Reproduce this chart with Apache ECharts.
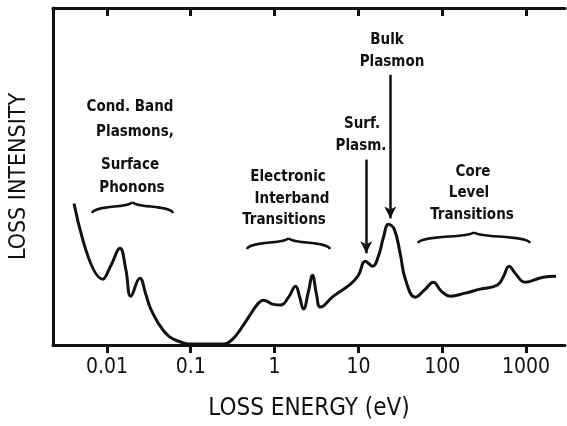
<!DOCTYPE html>
<html>
<head>
<meta charset="utf-8">
<script src="https://cdn.jsdelivr.net/npm/echarts@6/dist/echarts.min.js"></script>
<style>
  html, body { margin: 0; padding: 0; background: #fff; }
  #chart { width: 567px; height: 426px; }
</style>
</head>
<body>
<div id="chart"></div>
<script>
// loss energy (eV) and loss intensity (arbitrary units)
var energies = [0.00405, 0.00896, 0.0112, 0.0143, 0.0168, 0.0193, 0.0247, 0.0291, 0.0334,
    0.0477, 0.070, 0.115, 0.247, 0.316, 0.394, 0.518, 0.628, 0.740, 0.946,
    1.18, 1.47, 1.78, 1.98, 2.21, 2.54, 2.83, 3.16, 3.53, 5.04,
    8.04, 10.0, 12.1, 14.7, 17.3, 19.9, 22.8, 26.8, 31.6, 36.3,
    47.7, 62.8, 78.2, 97.3, 124, 188, 283, 452, 532, 628,
    740, 973, 1592, 2275];
var intensity = [142, 66, 80, 97, 76, 49, 67, 51, 36,
    14, 4, 1, 1, 6, 16, 31, 41, 45, 41,
    40, 48, 59, 49, 36, 54, 70, 51, 38, 49,
    61, 70, 84, 79, 89, 108, 121, 116, 91, 66,
    48, 56, 63, 54, 49, 52, 56, 60, 68, 79,
    72, 63, 68, 69];
var tickEnergies = [0.01, 0.1, 1, 10, 100, 1000];
var tickLabels = ['0.01', '0.1', '1', '10', '100', '1000'];

var ink = '#111';
var font = '"Liberation Sans Narrow", "DejaVu Sans Condensed", sans-serif';
var tickPos = tickEnergies.map(function (e) { return Math.log10(e); });
var seriesData = energies.map(function (e, i) { return [Math.log10(e), intensity[i]]; });

const chart = echarts.init(document.getElementById('chart'));

var option = {
    animation: false,
    grid: { left: 52, right: 2, top: 8, bottom: 80 },
    xAxis: [
        {
            type: 'value',
            min: -2.643,
            max: 3.464,
            position: 'bottom',
            name: 'LOSS ENERGY (eV)',
            nameLocation: 'middle',
            nameGap: 52,
            nameTextStyle: { color: ink, fontFamily: font, fontSize: 24 },
            axisLine: { onZero: false, lineStyle: { color: ink, width: 3 } },
            axisTick: { customValues: tickPos, length: 8, lineStyle: { color: ink, width: 3 } },
            axisLabel: {
                customValues: tickPos,
                margin: 12,
                color: ink, fontFamily: font, fontSize: 21,
                formatter: function (v) {
                    var i = tickPos.findIndex(function (p) { return Math.abs(p - v) < 1e-6; });
                    return i >= 0 ? tickLabels[i] : '';
                }
            },
            splitLine: { show: false }
        },
        {
            type: 'value',
            min: -2.643,
            max: 3.464,
            position: 'top',
            axisLine: { onZero: false, lineStyle: { color: ink, width: 3 } },
            axisTick: { customValues: tickPos, inside: true, length: 8, lineStyle: { color: ink, width: 3 } },
            axisLabel: { show: false },
            splitLine: { show: false }
        }
    ],
    yAxis: {
        type: 'value',
        min: 0,
        max: 338,
        name: 'LOSS INTENSITY',
        nameLocation: 'middle',
        nameGap: 22,
        nameTextStyle: { color: ink, fontFamily: font, fontSize: 23 },
        axisLine: { show: true, onZero: false, lineStyle: { color: ink, width: 3 } },
        axisTick: { show: false },
        axisLabel: { show: false },
        splitLine: { show: false }
    },
    series: [{
        type: 'line',
        data: seriesData,
        smooth: 0.45,
        showSymbol: false,
        lineStyle: { color: ink, width: 3 },
        markLine: {
            silent: true,
            symbol: ['none', 'arrow'],
            symbolSize: [9, 12],
            label: { show: false },
            lineStyle: { color: ink, width: 2.5, type: 'solid' },
            data: [
                [{ coord: [Math.log10(24), 271] }, { coord: [Math.log10(24), 127] }],
                [{ coord: [Math.log10(12.4), 186] }, { coord: [Math.log10(12.4), 92] }]
            ]
        }
    }]
};

chart.setOption(option);

// annotation texts and curly braces
function txt(text, x, y) {
    return {
        type: 'text', x: x, y: y,
        style: { text: text, fill: ink, font: 'bold 15px ' + font, align: 'center', verticalAlign: 'middle' }
    };
}
function brace(x1, x2, y) {
    var xm = (x1 + x2) / 2;
    var st = { fill: null, stroke: ink, lineWidth: 2.5 };
    return [
        {
            type: 'bezierCurve',
            shape: { x1: x1, y1: y + 6, cpx1: x1 + 3, cpy1: y - 2, cpx2: xm - 3, cpy2: y + 1, x2: xm, y2: y - 5 },
            style: st
        },
        {
            type: 'bezierCurve',
            shape: { x1: x2, y1: y + 6, cpx1: x2 - 3, cpy1: y - 2, cpx2: xm + 3, cpy2: y + 1, x2: xm, y2: y - 5 },
            style: st
        }
    ];
}

chart.setOption({
    graphic: [
        txt('Cond. Band', 130, 107),
        txt('Plasmons,', 135, 132),
        txt('Surface', 130, 165),
        txt('Phonons', 132, 188),
        txt('Electronic', 288, 177),
        txt('Interband', 292, 199),
        txt('Transitions', 284, 220),
        txt('Bulk', 387, 40),
        txt('Plasmon', 392, 62),
        txt('Surf.', 362, 124),
        txt('Plasm.', 361, 146),
        txt('Core', 473, 172),
        txt('Level', 469, 193),
        txt('Transitions', 472, 215)
    ].concat(brace(92, 173, 207), brace(247, 330, 243), brace(418, 530, 237))
});
</script>
</body>
</html>
